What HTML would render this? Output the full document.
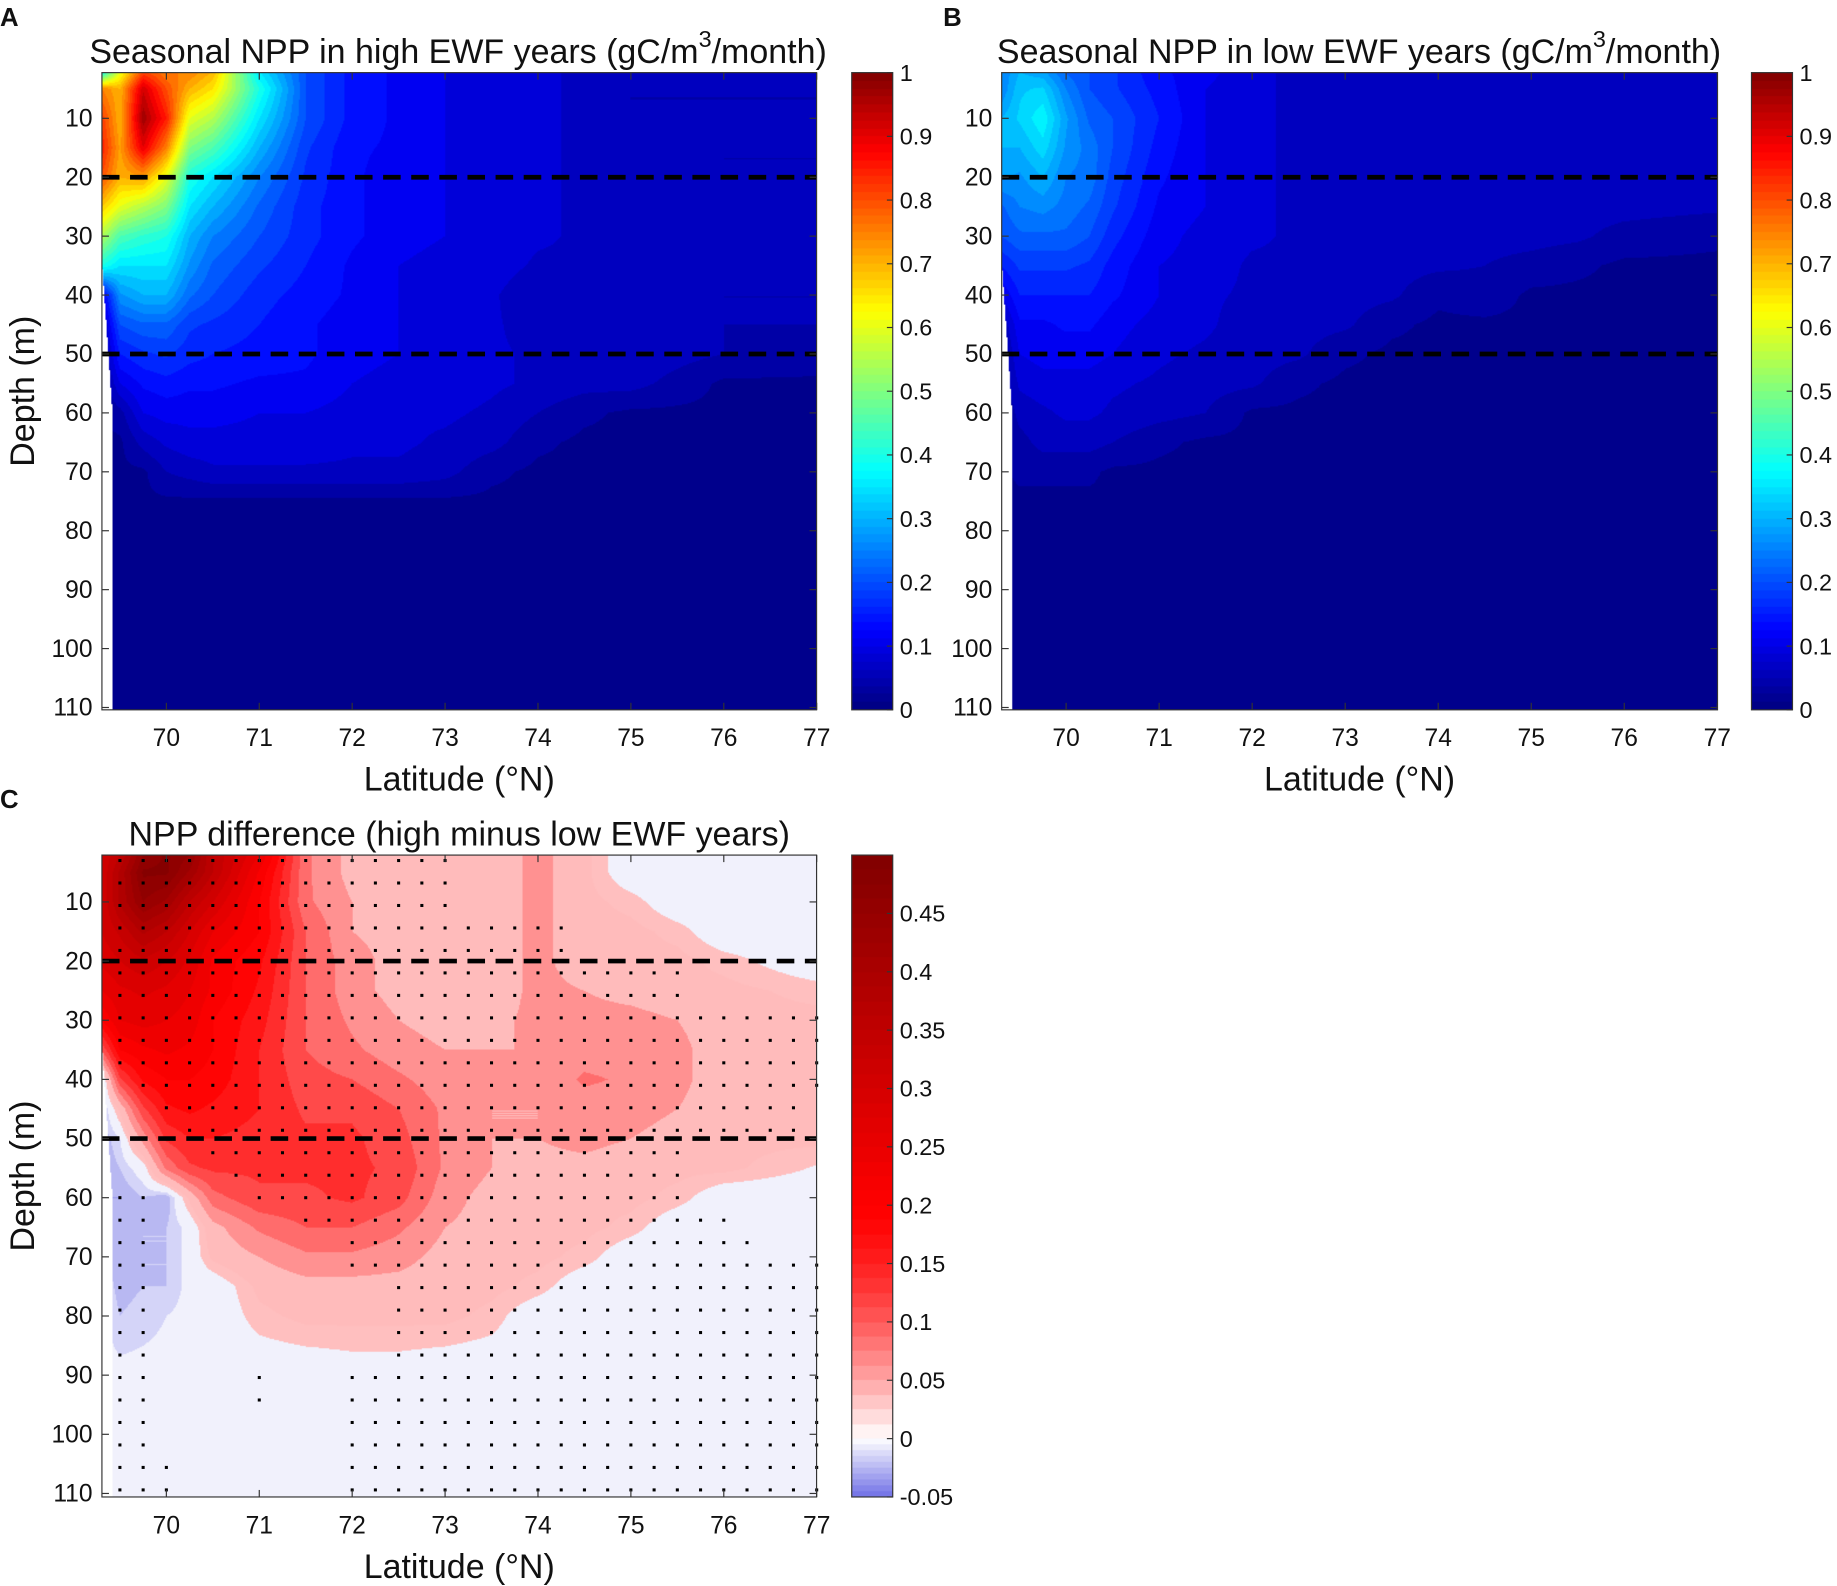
<!DOCTYPE html>
<html><head><meta charset="utf-8">
<style>
html,body{margin:0;padding:0;background:#fff;width:1837px;height:1586px;overflow:hidden}
#wrap{position:absolute;left:0;top:0;width:1568px;height:1354px;transform:scale(1.17156,1.17134);transform-origin:0 0}
canvas{position:absolute}
svg{position:absolute;left:0;top:0}
text{font-family:"Liberation Sans",Arial,sans-serif;fill:#111}
</style></head><body>
<div id="wrap">
<canvas id="cA" style="left:87px;top:62px" width="610" height="544"></canvas>
<canvas id="cB" style="left:855px;top:62px" width="611" height="544"></canvas>
<canvas id="cC" style="left:87px;top:730px" width="610" height="548"></canvas>
<canvas id="kA" style="left:727px;top:62px" width="35" height="544"></canvas>
<canvas id="kB" style="left:1495px;top:62px" width="35" height="544"></canvas>
<canvas id="kC" style="left:727px;top:730px" width="35" height="548"></canvas>
<svg id="ov" width="1568" height="1354" viewBox="0 0 1568 1354">
<text x="29" y="334" font-size="29" text-anchor="middle" transform="rotate(-90 29 334)">Depth (m)</text>
<text x="29" y="1004" font-size="29" text-anchor="middle" transform="rotate(-90 29 1004)">Depth (m)</text>
</svg>
</div>
<script>
const lats=[69.3,69.5,69.75,70,70.25,70.5,71,71.5,72,72.5,73,73.5,74,74.5,75,75.5,76,77];
const depths=[2,5,10,15,20,25,30,35,40,45,50,55,60,65,70,75,80,90,110];
const highNPP=[
[0.35,0.6,0.8,0.75,0.75,0.7,0.35,0.2,0.14,0.12,0.1,0.09,0.08,0.07,0.05,0.05,0.05,0.05],
[0.75,0.7,0.92,0.8,0.7,0.65,0.4,0.2,0.14,0.12,0.1,0.09,0.08,0.07,0.05,0.05,0.05,0.05],
[0.82,0.7,0.97,0.85,0.6,0.55,0.35,0.2,0.14,0.12,0.1,0.09,0.08,0.07,0.05,0.05,0.05,0.05],
[0.85,0.72,0.9,0.75,0.5,0.45,0.3,0.18,0.13,0.12,0.1,0.09,0.08,0.07,0.05,0.05,0.05,0.05],
[0.8,0.7,0.72,0.6,0.4,0.35,0.25,0.17,0.13,0.11,0.1,0.09,0.08,0.07,0.06,0.06,0.05,0.05],
[0.68,0.6,0.55,0.5,0.35,0.3,0.22,0.16,0.13,0.11,0.1,0.09,0.08,0.07,0.07,0.07,0.05,0.05],
[0.55,0.45,0.42,0.4,0.3,0.25,0.2,0.16,0.13,0.11,0.1,0.09,0.08,0.07,0.07,0.07,0.05,0.05],
[0.4,0.35,0.35,0.35,0.27,0.22,0.18,0.15,0.12,0.1,0.09,0.09,0.07,0.07,0.07,0.07,0.05,0.05],
[0.1,0.27,0.3,0.3,0.23,0.2,0.16,0.14,0.12,0.1,0.09,0.08,0.05,0.07,0.07,0.07,0.05,0.05],
[0.05,0.2,0.22,0.22,0.18,0.17,0.15,0.13,0.11,0.1,0.09,0.08,0.06,0.07,0.07,0.06,0.05,0.05],
[0.03,0.15,0.17,0.18,0.16,0.15,0.14,0.13,0.11,0.1,0.09,0.08,0.07,0.07,0.07,0.06,0.05,0.04],
[0.02,0.1,0.13,0.14,0.13,0.13,0.12,0.12,0.1,0.09,0.09,0.08,0.07,0.06,0.06,0.04,0.02,0.02],
[0.02,0.04,0.1,0.11,0.11,0.11,0.1,0.1,0.09,0.08,0.08,0.07,0.05,0.03,0.02,0.02,0.02,0.02],
[0.02,0.02,0.06,0.08,0.09,0.09,0.09,0.09,0.08,0.08,0.07,0.06,0.03,0.02,0.02,0.02,0.02,0.02],
[0.02,0.02,0.02,0.05,0.06,0.07,0.07,0.07,0.07,0.07,0.06,0.03,0.02,0.02,0.02,0.02,0.02,0.02],
[0.02,0.02,0.02,0.02,0.02,0.02,0.02,0.02,0.02,0.02,0.02,0.02,0.02,0.02,0.02,0.02,0.02,0.02],
[0.02,0.02,0.02,0.02,0.02,0.02,0.02,0.02,0.02,0.02,0.02,0.02,0.02,0.02,0.02,0.02,0.02,0.02],
[0.02,0.02,0.02,0.02,0.02,0.02,0.02,0.02,0.02,0.02,0.02,0.02,0.02,0.02,0.02,0.02,0.02,0.02],
[0.02,0.02,0.02,0.02,0.02,0.02,0.02,0.02,0.02,0.02,0.02,0.02,0.02,0.02,0.02,0.02,0.02,0.02]];
const lowNPP=[
[0.25,0.3,0.28,0.22,0.2,0.18,0.13,0.11,0.08,0.07,0.06,0.06,0.06,0.06,0.06,0.06,0.06,0.06],
[0.25,0.32,0.33,0.25,0.2,0.18,0.14,0.1,0.08,0.07,0.06,0.06,0.06,0.06,0.06,0.06,0.06,0.06],
[0.3,0.33,0.37,0.28,0.22,0.2,0.15,0.1,0.08,0.07,0.06,0.06,0.06,0.06,0.06,0.06,0.06,0.06],
[0.3,0.3,0.34,0.27,0.24,0.2,0.14,0.1,0.08,0.07,0.06,0.06,0.06,0.06,0.06,0.06,0.06,0.06],
[0.28,0.27,0.3,0.25,0.24,0.19,0.13,0.1,0.08,0.07,0.06,0.06,0.06,0.06,0.06,0.06,0.06,0.06],
[0.22,0.25,0.26,0.24,0.22,0.18,0.12,0.1,0.08,0.07,0.06,0.06,0.06,0.06,0.06,0.06,0.06,0.055],
[0.2,0.22,0.22,0.22,0.2,0.16,0.11,0.09,0.08,0.07,0.06,0.06,0.06,0.06,0.06,0.055,0.04,0.03],
[0.15,0.18,0.18,0.18,0.17,0.14,0.1,0.09,0.07,0.07,0.06,0.06,0.055,0.05,0.04,0.03,0.02,0.02],
[0.1,0.15,0.15,0.15,0.15,0.13,0.1,0.08,0.07,0.06,0.06,0.055,0.03,0.04,0.02,0.02,0.02,0.02],
[0.05,0.12,0.12,0.13,0.13,0.11,0.09,0.08,0.06,0.06,0.055,0.03,0.02,0.02,0.02,0.02,0.02,0.02],
[0.03,0.1,0.11,0.11,0.11,0.1,0.08,0.07,0.06,0.055,0.03,0.02,0.02,0.02,0.02,0.02,0.02,0.02],
[0.03,0.08,0.09,0.09,0.09,0.08,0.07,0.06,0.055,0.03,0.02,0.02,0.02,0.02,0.02,0.02,0.02,0.02],
[0.02,0.06,0.07,0.08,0.08,0.07,0.06,0.05,0.02,0.02,0.02,0.02,0.02,0.02,0.02,0.02,0.02,0.02],
[0.02,0.04,0.06,0.06,0.06,0.05,0.03,0.02,0.02,0.02,0.02,0.02,0.02,0.02,0.02,0.02,0.02,0.02],
[0.02,0.03,0.03,0.03,0.03,0.02,0.02,0.02,0.02,0.02,0.02,0.02,0.02,0.02,0.02,0.02,0.02,0.02],
[0.02,0.02,0.02,0.02,0.02,0.02,0.02,0.02,0.02,0.02,0.02,0.02,0.02,0.02,0.02,0.02,0.02,0.02],
[0.02,0.02,0.02,0.02,0.02,0.02,0.02,0.02,0.02,0.02,0.02,0.02,0.02,0.02,0.02,0.02,0.02,0.02],
[0.02,0.02,0.02,0.02,0.02,0.02,0.02,0.02,0.02,0.02,0.02,0.02,0.02,0.02,0.02,0.02,0.02,0.02],
[0.02,0.02,0.02,0.02,0.02,0.02,0.02,0.02,0.02,0.02,0.02,0.02,0.02,0.02,0.02,0.02,0.02,0.02]];
const diffNPP=[
[0.3,0.35,0.45,0.48,0.45,0.35,0.25,0.08,0.04,0.04,0.04,0.03,0.06,0.03,-0.005,-0.005,-0.005,-0.005],
[0.3,0.38,0.48,0.48,0.42,0.35,0.22,0.08,0.04,0.04,0.04,0.03,0.06,0.03,-0.005,-0.005,-0.005,-0.005],
[0.3,0.38,0.45,0.42,0.35,0.3,0.2,0.08,0.05,0.04,0.04,0.03,0.06,0.03,0.02,-0.005,-0.005,-0.005],
[0.3,0.33,0.38,0.35,0.3,0.25,0.2,0.1,0.05,0.04,0.04,0.03,0.06,0.03,0.03,0.02,-0.005,-0.005],
[0.28,0.3,0.32,0.3,0.27,0.22,0.18,0.1,0.06,0.04,0.04,0.03,0.06,0.03,0.03,0.03,0.02,-0.005],
[0.25,0.27,0.28,0.27,0.25,0.22,0.17,0.1,0.06,0.04,0.04,0.03,0.06,0.05,0.04,0.03,0.03,0.02],
[0.2,0.25,0.26,0.25,0.24,0.2,0.16,0.1,0.07,0.05,0.04,0.04,0.06,0.06,0.06,0.05,0.03,0.03],
[0.1,0.2,0.22,0.23,0.22,0.2,0.15,0.1,0.08,0.06,0.05,0.05,0.05,0.06,0.06,0.06,0.03,0.03],
[-0.02,0.12,0.18,0.2,0.2,0.19,0.15,0.11,0.1,0.08,0.06,0.05,0.05,0.08,0.07,0.06,0.03,0.03],
[-0.03,0.03,0.12,0.17,0.18,0.17,0.15,0.12,0.12,0.1,0.07,0.05,0.05,0.06,0.06,0.05,0.03,0.03],
[-0.03,-0.01,0.06,0.13,0.15,0.15,0.14,0.13,0.13,0.11,0.07,0.05,0.05,0.06,0.05,0.04,0.03,0.03],
[-0.03,-0.02,0.0,0.08,0.12,0.13,0.13,0.13,0.13,0.12,0.07,0.05,0.04,0.04,0.03,0.03,0.03,0.01],
[-0.03,-0.03,-0.02,-0.03,0.03,0.09,0.12,0.12,0.13,0.11,0.06,0.04,0.03,0.03,0.03,0.02,-0.005,-0.005],
[-0.02,-0.03,-0.02,-0.02,-0.005,0.04,0.08,0.1,0.1,0.08,0.05,0.04,0.03,0.03,0.02,-0.005,-0.005,-0.005],
[-0.01,-0.03,-0.02,-0.02,-0.005,0.03,0.05,0.07,0.07,0.06,0.04,0.03,0.03,0.02,-0.005,-0.005,-0.005,-0.005],
[-0.01,-0.025,-0.02,-0.02,-0.005,-0.005,0.03,0.04,0.04,0.04,0.035,0.03,0.02,-0.005,-0.005,-0.005,-0.005,-0.005],
[-0.005,-0.02,-0.015,-0.01,-0.005,-0.005,0.02,0.03,0.03,0.03,0.03,0.02,-0.005,-0.005,-0.005,-0.005,-0.005,-0.005],
[-0.005,-0.005,-0.005,-0.005,-0.005,-0.005,-0.005,-0.005,0.0,0.0,-0.005,-0.005,-0.005,-0.005,-0.005,-0.005,-0.005,-0.005],
[-0.005,-0.005,-0.005,-0.005,-0.005,-0.005,-0.005,-0.005,-0.005,-0.005,-0.005,-0.005,-0.005,-0.005,-0.005,-0.005,-0.005,-0.005]];
const sigDepths=[3,6.8,10.6,14.4,18.2,22,25.8,29.6,33.4,37.2,41,44.8,48.6,52.4,56.2,60,63.8,67.6,71.4,75.2,79,82.8,86.6,90.4,94.2,98,101.8,105.6,109.4];
const sigLats=[69.5,69.75,70,70.25,70.5,70.75,71,71.25,71.5,71.75,72,72.25,72.5,72.75,73,73.25,73.5,73.75,74,74.25,74.5,74.75,75,75.25,75.5,75.75,76,76.25,76.5,76.75,77];
const sigMask=[
"1111111111111110000000000000000","1111111111111110000000000000000","1111111111111110000000000000000",
"1111111111111111111100000000000","1111111111111111111100000000000","1111111111111111111111111000000",
"1111111111111111111111111000000","1111111111111111111111111111111","1111111111111111111111111111111",
"1111111111111111111111111111111","0111111111111111111111111111111","0011111111111111111111111111110",
"0001111111111111111111111111110","0000111111111111111111111000000","0000011111111111111111111000000",
"1100001111111111111111111000000","1100000011111111111111111110000","1100000000111111111111111111000",
"1100000000111111111111111111111","1100000000001111111111111111111","1100000000001111111111111111111",
"1100000000001111111111111111111","1100000000001111111111111111111","1100001000111111111111111111111",
"1100001000111111111111111111111","1100000000111111111111111111111","1100000000111111111111111111111",
"1110000000111111111111111111111","1110000000111111111111111111111"];
const depthTicks=[10,20,30,40,50,60,70,80,90,100,110];
const latTicks=[70,71,72,73,74,75,76,77];
const cbTicksAB=[0,0.1,0.2,0.3,0.4,0.5,0.6,0.7,0.8,0.9,1];
const cbTicksC=[-0.05,0,0.05,0.1,0.15,0.2,0.25,0.3,0.35,0.4,0.45];
const dashDepths=[20,50];

function cl(v){return Math.max(0,Math.min(1,v));}
function jet(v){const t=cl(v);return [cl(1.5-Math.abs(4*t-3))*255,cl(1.5-Math.abs(4*t-2))*255,cl(1.5-Math.abs(4*t-1))*255];}
function jetQ(v){return jet((Math.floor(v/0.025)+0.5)*0.025);}
function div(q){
  if(q>=0){ if(q<=0.2){const t=q/0.2;const g=255*Math.pow(1-t,1.5);return [255,g,g];}
    const t=cl((q-0.2)/0.3);return [255-127*t,0,0];}
  const s=cl(-q/0.05);return [255-143*s,255-143*s,255-25*s];}
function divQ(v){let q;
  if(v>=0.012)q=Math.max(0.035,(Math.floor(v/0.025)+0.5)*0.025);
  else if(v>=0)q=-0.005;
  else q=(Math.ceil(v/0.01)-0.5)*0.01;return div(q);}
function idx(arr,v){if(v<=arr[0])return [0,0];if(v>=arr[arr.length-1])return [arr.length-2,1];
  for(let i=0;i<arr.length-1;i++)if(v<=arr[i+1])return [i,(v-arr[i])/(arr[i+1]-arr[i])];}
function interp(grid,lat,d){const [i,fx]=idx(lats,lat);const [j,fy]=idx(depths,d);
  const a=grid[j][i],b=grid[j][i+1],c=grid[j+1][i],e=grid[j+1][i+1];
  return (a*(1-fx)+b*fx)*(1-fy)+(c*(1-fx)+e*fx)*fy;}
function leftEdge(d){if(d<35)return 69.31;if(d<60)return 69.31+(d-35)/25*0.11;return 69.42;}

const P={
 A:{L:87,T:62,W:610,H:544,x70:142,px:79.3,y10:101,py:5.03},
 B:{L:855,T:62,W:611,H:544,x70:910,px:79.4,y10:101,py:5.03},
 C:{L:87,T:730,W:610,H:548,x70:142,px:79.3,y10:770,py:5.05}};
function xs(p,lat){return p.x70+(lat-70)*p.px;}
function ys(p,d){return p.y10+(d-10)*p.py;}

function drawField(id,p,grid,cmap){
  const c=document.getElementById(id),ctx=c.getContext('2d');const im=ctx.createImageData(c.width,c.height);
  for(let y=0;y<c.height;y++){const d=10+(p.T+y+0.5-p.y10)/p.py;
    for(let x=0;x<c.width;x++){const lat=70+(p.L+x+0.5-p.x70)/p.px;let col=[255,255,255];
      if(lat>=leftEdge(d))col=cmap(interp(grid,lat,d));
      const k=(y*c.width+x)*4;im.data[k]=col[0];im.data[k+1]=col[1];im.data[k+2]=col[2];im.data[k+3]=255;}}
  ctx.putImageData(im,0,0);}
drawField('cA',P.A,highNPP,jetQ);
drawField('cB',P.B,lowNPP,jetQ);
drawField('cC',P.C,diffNPP,divQ);

function drawBar(id,lo,hi,cmap){const c=document.getElementById(id),ctx=c.getContext('2d');
  for(let y=0;y<c.height;y++){const v=hi-(y+0.5)/c.height*(hi-lo);const col=cmap(v);
    ctx.fillStyle='rgb('+col.map(Math.round).join(',')+')';ctx.fillRect(0,y,c.width,1);}}
drawBar('kA',0,1,v=>jet((Math.floor(v/0.0125)+0.5)*0.0125));
drawBar('kB',0,1,v=>jet((Math.floor(v/0.0125)+0.5)*0.0125));
drawBar('kC',-0.05,0.5,v=>{let q=v>=0?(Math.floor(v/0.0125)+0.5)*0.0125:(Math.ceil(v/0.005)-0.5)*0.005;return div(q);});

const NS='http://www.w3.org/2000/svg',ov=document.getElementById('ov');
function mk(tag,at,parent){const e=document.createElementNS(NS,tag);for(const k in at)e.setAttribute(k,at[k]);(parent||ov).appendChild(e);return e;}
function txt(s,at,parent){const e=mk('text',at,parent);e.textContent=s;return e;}

const gd=mk('g',{});


sigDepths.forEach((d,j)=>{sigLats.forEach((lat,i)=>{if(sigMask[j].charAt(i)==='1'){
  const r=mk('rect',{x:xs(P.C,lat)-1.3,y:ys(P.C,d)-1.3,width:2.6,height:2.6,fill:'#000'},gd);
  
  }});});

function axes(key,p,letter,lx,ly){
  const g=mk('g',{});
  
  
  dashDepths.forEach(d=>{const l=mk('line',{x1:p.L,x2:p.L+p.W,y1:ys(p,d),y2:ys(p,d),stroke:'#000','stroke-width':4,'stroke-dasharray':'15 9'},g);
    
    });
  mk('rect',{x:p.L,y:p.T,width:p.W,height:p.H,fill:'none',stroke:'#333','stroke-width':1},g);
  depthTicks.forEach(d=>{const y=ys(p,d);
    mk('line',{x1:p.L,x2:p.L+6,y1:y,y2:y,stroke:'#333'},g);mk('line',{x1:p.L+p.W,x2:p.L+p.W-6,y1:y,y2:y,stroke:'#333'},g);
    const t=txt(String(d),{x:p.L-8,y:y+7,'font-size':21,'text-anchor':'end'},g);
    
    });
  latTicks.forEach(lat=>{const x=xs(p,lat);
    mk('line',{x1:x,x2:x,y1:p.T+p.H,y2:p.T+p.H-6,stroke:'#333'},g);mk('line',{x1:x,x2:x,y1:p.T,y2:p.T+6,stroke:'#333'},g);
    const t=txt(String(lat),{x:x,y:p.T+p.H+31,'font-size':21,'text-anchor':'middle'},g);
    
    });
  const xl=txt('Latitude (°N)',{x:p.L+p.W/2,y:p.T+p.H+69,'font-size':29,'text-anchor':'middle'},g);
  
  
  const pl=txt(letter,{x:lx,y:ly,'font-size':22,'font-weight':'bold'},g);
  
  
}
axes('A',P.A,'A',0,22);axes('B',P.B,'B',805,22);axes('C',P.C,'C',0,690);

function title(cx,y,main,sup,tail,name){const t=mk('text',{x:cx,y:y,'font-size':29,'text-anchor':'middle'});
  
  
  const a=mk('tspan',{},t);a.textContent=main;
  if(sup){const s=mk('tspan',{dy:-14,'font-size':20},t);s.textContent=sup;const b=mk('tspan',{dy:14},t);b.textContent=tail;}}
title(391,54,'Seasonal NPP in high EWF years (gC/m','3','/month)','title-a');
title(1160,54,'Seasonal NPP in low EWF years (gC/m','3','/month)','title-b');
title(392,722,'NPP difference (high minus low EWF years)','','','title-c');

function cbar(x,top,h,lo,hi,ticks,name){const g=mk('g',{});
  
  
  mk('rect',{x:x,y:top,width:35,height:h,fill:'none',stroke:'#333'},g);
  ticks.forEach(v=>{const y=top+h-(v-lo)/(hi-lo)*h;mk('line',{x1:x+35,x2:x+30,y1:y,y2:y,stroke:'#333'},g);
    const t=txt(String(v),{x:x+41,y:y+7,'font-size':20},g);
    
    });}
cbar(727,62,544,0,1,cbTicksAB,'colorbar-a-axis');
cbar(1495,62,544,0,1,cbTicksAB,'colorbar-b-axis');
cbar(727,730,548,-0.05,0.5,cbTicksC,'colorbar-c-axis');
</script>
</body></html>
